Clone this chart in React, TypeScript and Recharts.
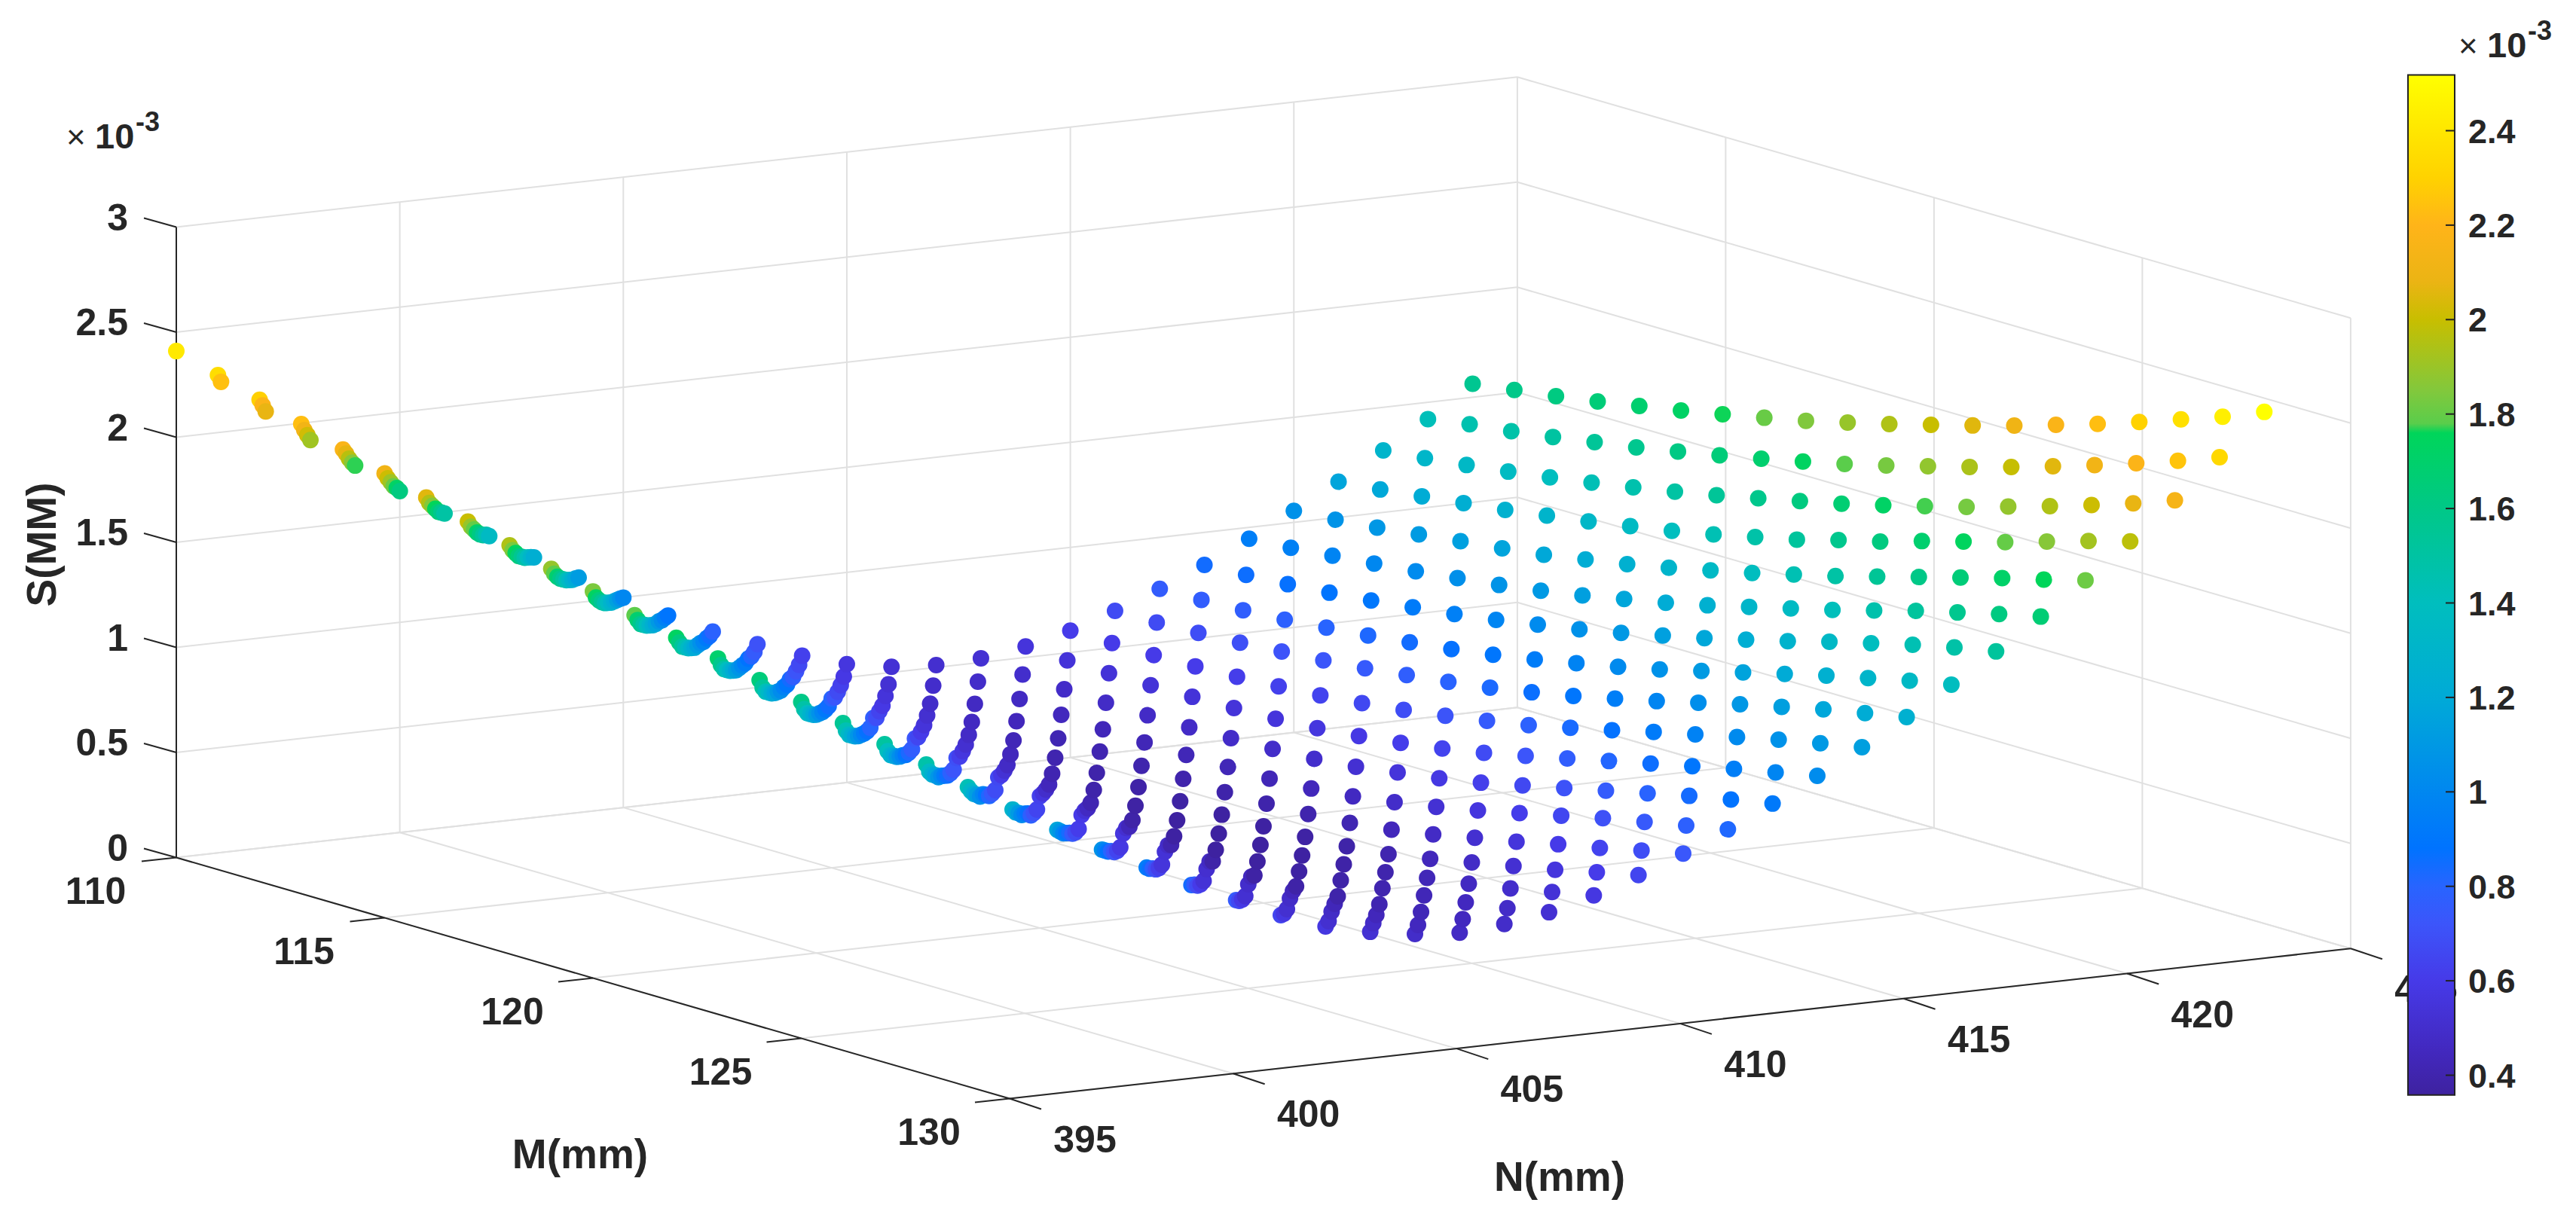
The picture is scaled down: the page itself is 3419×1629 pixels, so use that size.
import { ScatterChart, Scatter, XAxis, YAxis, ReferenceLine, ReferenceArea } from "recharts";

const CHART_W = 3419;
const CHART_H = 1629;

const M_VALUES = [110, 111, 112, 113, 114, 115, 116, 117, 118, 119, 120, 121, 122, 123, 124, 125, 126, 127, 128, 129];
const N_VALUES = [395, 396, 397, 398, 399, 400, 401, 402, 403, 404, 405, 406, 407, 408, 409, 410, 411, 412, 413, 414, 415, 416, 417, 418, 419, 420, 421, 422, 423, 424];

// S in units of 1e-3, one row per N, one column per M
const S_BY_N = [
    [2.41, 2.353, 2.293, 2.235, 2.171, 2.115, 2.057, 2.0, 1.944, 1.89, 1.84, 1.784, 1.734, 1.693, 1.647, 1.6, 1.557, 1.514, 1.475, 1.425],
    [2.24, 2.185, 2.125, 2.07, 2.01, 1.95, 1.895, 1.84, 1.785, 1.73, 1.68, 1.63, 1.58, 1.53, 1.485, 1.44, 1.4, 1.36, 1.325, 1.294],
    [2.075, 2.02, 1.965, 1.91, 1.855, 1.8, 1.745, 1.69, 1.635, 1.58, 1.53, 1.48, 1.43, 1.385, 1.34, 1.3, 1.265, 1.23, 1.2, 1.174],
    [1.915, 1.865, 1.81, 1.76, 1.705, 1.65, 1.6, 1.545, 1.495, 1.445, 1.395, 1.345, 1.3, 1.255, 1.215, 1.18, 1.145, 1.115, 1.085, 1.056],
    [1.77, 1.72, 1.665, 1.615, 1.565, 1.515, 1.46, 1.41, 1.36, 1.31, 1.26, 1.215, 1.17, 1.13, 1.09, 1.055, 1.025, 0.995, 0.97, 0.947],
    [1.625, 1.58, 1.53, 1.48, 1.43, 1.38, 1.33, 1.28, 1.23, 1.18, 1.135, 1.09, 1.05, 1.015, 0.985, 0.95, 0.915, 0.885, 0.86, 0.84],
    [1.494, 1.45, 1.4, 1.35, 1.3, 1.25, 1.2, 1.15, 1.105, 1.06, 1.015, 0.975, 0.935, 0.9, 0.87, 0.835, 0.805, 0.78, 0.76, 0.744],
    [1.363, 1.32, 1.27, 1.225, 1.175, 1.13, 1.08, 1.03, 0.985, 0.94, 0.895, 0.855, 0.815, 0.78, 0.75, 0.72, 0.695, 0.675, 0.66, 0.649],
    [1.238, 1.195, 1.15, 1.105, 1.06, 1.01, 0.965, 0.915, 0.87, 0.825, 0.785, 0.745, 0.71, 0.675, 0.645, 0.62, 0.6, 0.585, 0.575, 0.571],
    [1.118, 1.075, 1.03, 0.985, 0.94, 0.895, 0.85, 0.805, 0.76, 0.72, 0.68, 0.645, 0.61, 0.58, 0.555, 0.535, 0.52, 0.515, 0.515, 0.522],
    [0.999, 0.96, 0.92, 0.88, 0.84, 0.805, 0.77, 0.73, 0.695, 0.66, 0.628, 0.595, 0.565, 0.535, 0.51, 0.495, 0.485, 0.48, 0.482, 0.488],
    [0.89, 0.85, 0.81, 0.77, 0.73, 0.69, 0.655, 0.62, 0.59, 0.56, 0.535, 0.51, 0.485, 0.465, 0.45, 0.44, 0.435, 0.44, 0.45, 0.47],
    [0.79, 0.75, 0.715, 0.675, 0.64, 0.6, 0.565, 0.53, 0.497, 0.465, 0.435, 0.405, 0.385, 0.375, 0.38, 0.39, 0.41, 0.43, 0.454, 0.488],
    [0.706, 0.665, 0.625, 0.585, 0.55, 0.515, 0.475, 0.44, 0.41, 0.385, 0.365, 0.358, 0.36, 0.37, 0.385, 0.405, 0.428, 0.452, 0.482, 0.52],
    [0.627, 0.585, 0.55, 0.515, 0.48, 0.445, 0.41, 0.39, 0.372, 0.36, 0.354, 0.358, 0.365, 0.38, 0.4, 0.43, 0.46, 0.495, 0.535, 0.576],
    [0.563, 0.525, 0.49, 0.46, 0.43, 0.405, 0.39, 0.38, 0.37, 0.363, 0.365, 0.372, 0.385, 0.405, 0.44, 0.48, 0.52, 0.56, 0.605, 0.649],
    [0.527, 0.495, 0.465, 0.44, 0.416, 0.41, 0.4, 0.395, 0.389, 0.392, 0.4, 0.415, 0.44, 0.475, 0.516, 0.555, 0.6, 0.64, 0.685, 0.728],
    [0.511, 0.49, 0.465, 0.447, 0.435, 0.43, 0.428, 0.428, 0.43, 0.44, 0.46, 0.49, 0.525, 0.565, 0.61, 0.655, 0.7, 0.74, 0.78, 0.819],
    [0.52, 0.5, 0.487, 0.48, 0.478, 0.478, 0.484, 0.49, 0.5, 0.52, 0.55, 0.58, 0.616, 0.66, 0.705, 0.75, 0.795, 0.84, 0.88, 0.918],
    [0.552, 0.543, 0.54, 0.54, 0.542, 0.546, 0.552, 0.565, 0.585, 0.61, 0.64, 0.677, 0.72, 0.765, 0.81, 0.855, 0.9, 0.945, 0.985, 1.026],
    [0.604, 0.602, 0.602, 0.606, 0.614, 0.625, 0.64, 0.66, 0.685, 0.715, 0.748, 0.785, 0.83, 0.875, 0.925, 0.97, 1.015, 1.06, 1.1, 1.139],
    [0.674, 0.676, 0.684, 0.695, 0.71, 0.725, 0.745, 0.77, 0.795, 0.825, 0.86, 0.9, 0.945, 0.99, 1.04, 1.09, 1.135, 1.18, 1.22, 1.258],
    [0.755, 0.76, 0.768, 0.78, 0.8, 0.82, 0.845, 0.87, 0.9, 0.935, 0.975, 1.015, 1.06, 1.11, 1.16, 1.21, 1.26, 1.305, 1.35, 1.389],
    [0.845, 0.855, 0.868, 0.885, 0.905, 0.93, 0.955, 0.985, 1.02, 1.055, 1.095, 1.14, 1.185, 1.235, 1.285, 1.34, 1.39, 1.44, 1.485, 1.523],
    [0.946, 0.96, 0.98, 1.0, 1.02, 1.045, 1.07, 1.1, 1.135, 1.175, 1.215, 1.26, 1.31, 1.36, 1.41, 1.465, 1.52, 1.57, 1.62, 1.665],
    [1.055, 1.07, 1.09, 1.115, 1.14, 1.163, 1.19, 1.225, 1.26, 1.3, 1.345, 1.39, 1.44, 1.49, 1.545, 1.6, 1.655, 1.71, 1.76, 1.814],
    [1.17, 1.19, 1.215, 1.24, 1.265, 1.295, 1.325, 1.36, 1.395, 1.435, 1.48, 1.525, 1.58, 1.63, 1.69, 1.745, 1.8, 1.86, 1.92, 1.975],
    [1.295, 1.315, 1.34, 1.366, 1.396, 1.428, 1.463, 1.5, 1.54, 1.583, 1.627, 1.672, 1.722, 1.775, 1.829, 1.888, 1.947, 2.01, 2.075, 2.147],
    [1.42, 1.453, 1.477, 1.507, 1.54, 1.572, 1.61, 1.649, 1.69, 1.734, 1.78, 1.83, 1.884, 1.938, 1.995, 2.056, 2.119, 2.185, 2.254, 2.328],
    [1.564, 1.592, 1.62, 1.652, 1.688, 1.724, 1.763, 1.804, 1.847, 1.896, 1.946, 2.0, 2.054, 2.111, 2.172, 2.234, 2.3, 2.37, 2.44, 2.52],
];

const M_TICKS = [110, 115, 120, 125, 130];
const N_TICKS = [395, 400, 405, 410, 415, 420, 425];
const S_TICKS = ["0", "0.5", "1", "1.5", "2", "2.5", "3"];
const BAR_TICKS = ["0.4", "0.6", "0.8", "1", "1.2", "1.4", "1.6", "1.8", "2", "2.2", "2.4"];

// colorbar: value, r, g, b
const COLOR_STOPS = [
    [0.36, 62, 34, 160],
    [0.45, 66, 40, 190],
    [0.6, 70, 58, 232],
    [0.72, 60, 85, 250],
    [0.8, 40, 100, 255],
    [0.88, 0, 115, 255],
    [1.0, 0, 135, 240],
    [1.2, 0, 170, 215],
    [1.4, 0, 190, 190],
    [1.6, 0, 200, 135],
    [1.76, 0, 213, 90],
    [1.78, 90, 205, 75],
    [1.85, 130, 200, 60],
    [2.0, 200, 190, 0],
    [2.08, 235, 180, 20],
    [2.2, 255, 180, 25],
    [2.3, 255, 210, 0],
    [2.52, 255, 255, 0],
];

const BAR_MAX = 2.518;
const BAR_MIN = 0.358;

const AXIS_COLOR = "#262626";
const GRID_COLOR = "#e0e0e0";
const FONT = "'Liberation Sans', Arial, sans-serif";

// orthographic view of the 3D box onto the page
function project(m: number, n: number, s: number) {
    return {
        x: 234 + 55.3 * (m - 110) + 59.33 * (n - 395),
        y: 1138.5 + 16 * (m - 110) - 6.64 * (n - 395) - 279 * s,
    };
}

function barY(v: number) {
    return 173.5 + (2.4 - v) * 627;
}

function colorFor(v: number) {
    const last = COLOR_STOPS[COLOR_STOPS.length - 1];
    if (v <= COLOR_STOPS[0][0]) return `rgb(${COLOR_STOPS[0].slice(1).join(",")})`;
    if (v >= last[0]) return `rgb(${last.slice(1).join(",")})`;
    const i = COLOR_STOPS.findIndex((c) => c[0] > v);
    const a = COLOR_STOPS[i - 1];
    const b = COLOR_STOPS[i];
    const t = (v - a[0]) / (b[0] - a[0]);
    const mix = [1, 2, 3].map((k) => Math.round(a[k] + (b[k] - a[k]) * t));
    return `rgb(${mix.join(",")})`;
}

const points = N_VALUES.flatMap((n, i) =>
    M_VALUES.map((m, j) => ({ ...project(m, n, S_BY_N[i][j]), color: colorFor(S_BY_N[i][j]) }))
);

type Seg = [{ x: number; y: number }, { x: number; y: number }];

const gridSegments: Seg[] = [
    ...M_TICKS.map((m): Seg => [project(m, 395, 0), project(m, 425, 0)]),
    ...N_TICKS.map((n): Seg => [project(110, n, 0), project(130, n, 0)]),
    ...S_TICKS.map((s): Seg => [project(110, 395, +s), project(110, 425, +s)]),
    ...S_TICKS.map((s): Seg => [project(110, 425, +s), project(130, 425, +s)]),
    ...N_TICKS.slice(1).map((n): Seg => [project(110, n, 0), project(110, n, 3)]),
    ...M_TICKS.slice(1).map((m): Seg => [project(m, 425, 0), project(m, 425, 3)]),
];

const shift = (p: { x: number; y: number }, dx: number, dy: number) => ({ x: p.x + dx, y: p.y + dy });

const axisSegments: Seg[] = [
    [project(110, 395, 0), project(110, 395, 3)],
    [project(110, 395, 0), project(130, 395, 0)],
    [project(130, 395, 0), project(130, 425, 0)],
    ...S_TICKS.map((s): Seg => [project(110, 395, +s), shift(project(110, 395, +s), -43, -12)]),
    ...M_TICKS.map((m): Seg => [project(m, 395, 0), shift(project(m, 395, 0), -46, 5)]),
    ...N_TICKS.map((n): Seg => [project(130, n, 0), shift(project(130, n, 0), 42, 14)]),
];

const barTickSegments: Seg[] = BAR_TICKS.map((t): Seg => [
    { x: 3246, y: barY(+t) },
    { x: 3258, y: barY(+t) },
]);

const Dot = (props: any) => <circle cx={props.cx} cy={props.cy} r={11} fill={props.payload.color} />;

const tickStyle = { fontFamily: FONT, fontWeight: 700, fontSize: 50, fill: AXIS_COLOR };
const barStyle = { fontFamily: FONT, fontWeight: 700, fontSize: 45, fill: AXIS_COLOR };
const titleStyle = { fontFamily: FONT, fontWeight: 700, fontSize: 55, fill: AXIS_COLOR };

function Exponent({ x, y }: { x: number; y: number }) {
    return (
        <g>
            <text x={x} y={y} fontFamily={FONT} fontSize={44} fill={AXIS_COLOR}>×</text>
            <text x={x + 38} y={y} fontFamily={FONT} fontWeight={700} fontSize={47} fill={AXIS_COLOR}>10</text>
            <text x={x + 92} y={y - 23} fontFamily={FONT} fontWeight={700} fontSize={36} fill={AXIS_COLOR}>-3</text>
        </g>
    );
}

export default function App() {
    return (
        <div style={{ position: "absolute", left: 0, top: 0, width: CHART_W, height: CHART_H, background: "#fff" }}>
            <ScatterChart width={CHART_W} height={CHART_H} margin={{ top: 0, right: 0, bottom: 0, left: 0 }}>
                <defs>
                    <linearGradient id="barFill" x1="0" y1="0" x2="0" y2="1">
                        {[...COLOR_STOPS].reverse().map((c) => (
                            <stop
                                key={c[0]}
                                offset={(BAR_MAX - c[0]) / (BAR_MAX - BAR_MIN)}
                                stopColor={`rgb(${c.slice(1).join(",")})`}
                            />
                        ))}
                    </linearGradient>
                </defs>
                <XAxis type="number" dataKey="x" domain={[0, CHART_W]} hide />
                <YAxis type="number" dataKey="y" domain={[0, CHART_H]} reversed hide />
                {gridSegments.map((seg, i) => (
                    <ReferenceLine key={`g${i}`} segment={seg} stroke={GRID_COLOR} strokeWidth={2} ifOverflow="visible" />
                ))}
                {axisSegments.map((seg, i) => (
                    <ReferenceLine key={`a${i}`} segment={seg} stroke={AXIS_COLOR} strokeWidth={2} ifOverflow="visible" />
                ))}
                <Scatter data={points} shape={Dot} isAnimationActive={false} />

                {S_TICKS.map((s) => (
                    <text key={s} x={170} y={project(110, 395, +s).y + 4} textAnchor="end" {...tickStyle}>{s}</text>
                ))}
                {M_TICKS.map((m) => (
                    <text key={m} x={project(m, 395, 0).x - 107} y={project(m, 395, 0).y + 61} textAnchor="middle" {...tickStyle}>{m}</text>
                ))}
                {N_TICKS.map((n) => (
                    <text key={n} x={project(130, n, 0).x + 100} y={project(130, n, 0).y + 71} textAnchor="middle" {...tickStyle}>{n}</text>
                ))}
                <text x={770} y={1551} textAnchor="middle" {...titleStyle}>M(mm)</text>
                <text x={2070} y={1581} textAnchor="middle" {...titleStyle}>N(mm)</text>
                <text x={55} y={723} textAnchor="middle" dominantBaseline="central" transform="rotate(-90 55 723)" {...titleStyle}>S(MM)</text>
                <Exponent x={88} y={197} />

                <ReferenceArea x1={3196} x2={3258} y1={BAR_MAX && barY(BAR_MAX)} y2={barY(BAR_MIN)} fill="url(#barFill)" fillOpacity={1} stroke="#222" strokeWidth={2} ifOverflow="visible" />
                {barTickSegments.map((seg, i) => (
                    <ReferenceLine key={`b${i}`} segment={seg} stroke="#222" strokeWidth={2} ifOverflow="visible" />
                ))}
                {BAR_TICKS.map((t) => (
                    <text key={t} x={3276} y={barY(+t) + 16} {...barStyle}>{t}</text>
                ))}
                <Exponent x={3263} y={76} />
            </ScatterChart>
        </div>
    );
}
